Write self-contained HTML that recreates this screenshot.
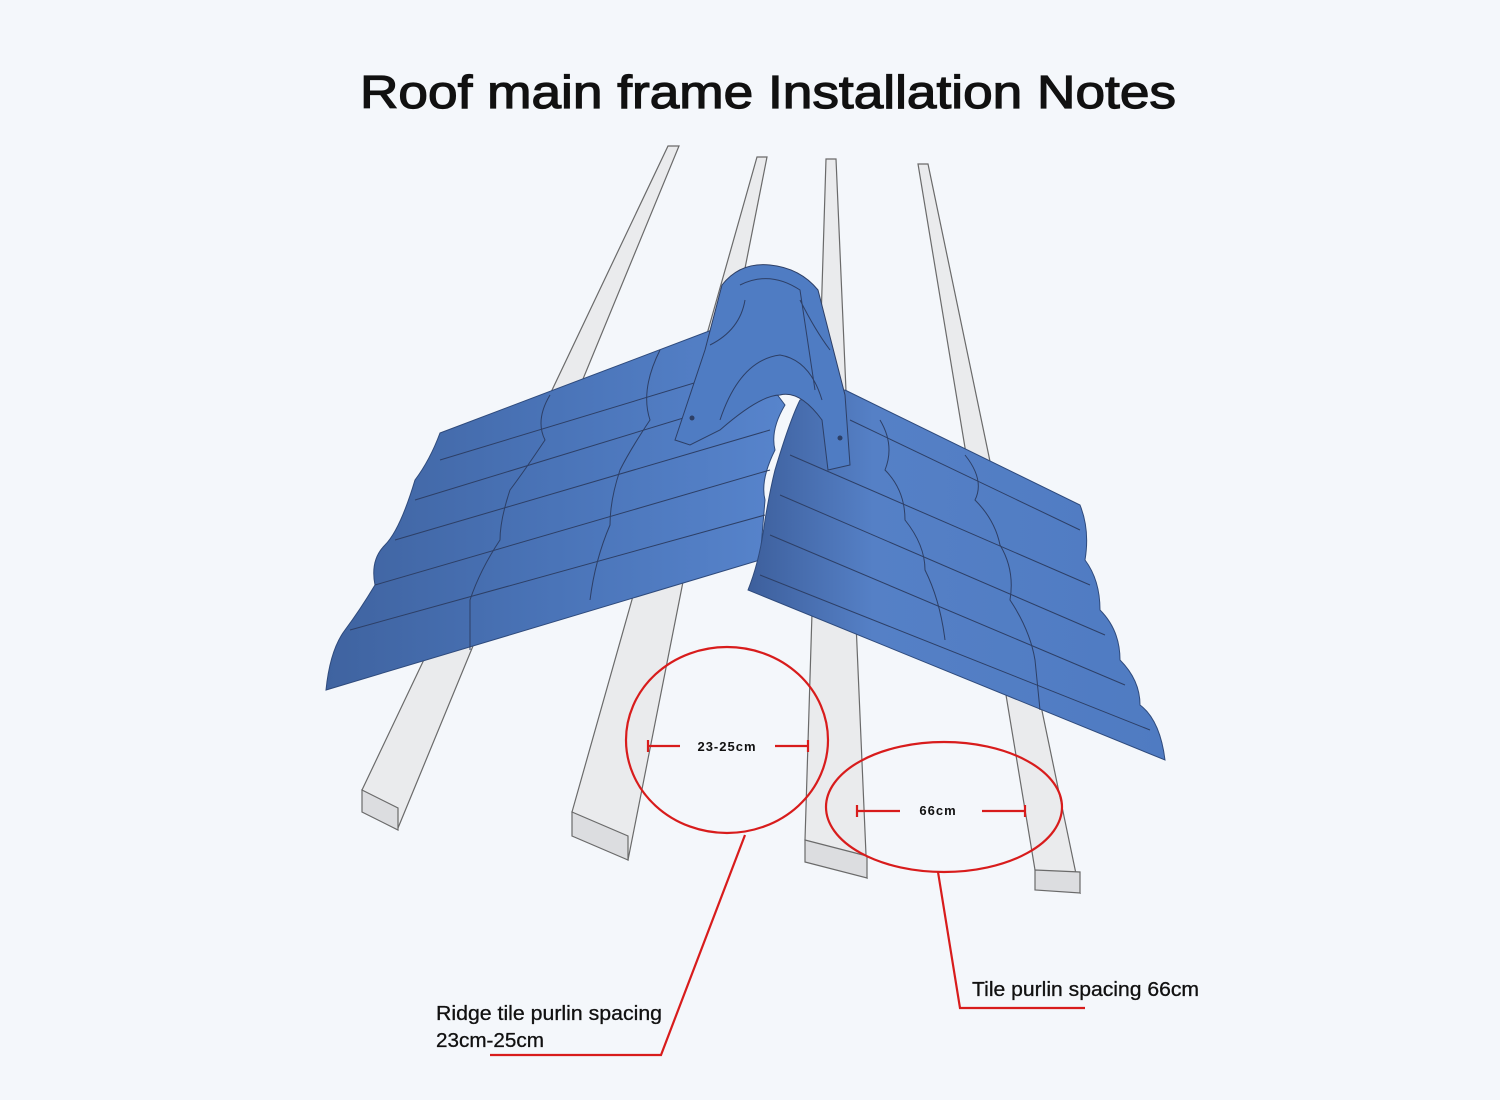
<!DOCTYPE html>
<html><head><meta charset="utf-8"><style>
html,body{margin:0;padding:0;background:#f4f7fb;}
svg{display:block;}
</style></head><body>
<svg width="1500" height="1100" viewBox="0 0 1500 1100" xmlns="http://www.w3.org/2000/svg">
<defs>
<linearGradient id="gl" x1="0" y1="0" x2="1" y2="0">
<stop offset="0" stop-color="#3f63a0"/><stop offset="0.5" stop-color="#4a74b8"/><stop offset="1" stop-color="#5784cc"/>
</linearGradient>
<linearGradient id="gr" x1="0" y1="0" x2="1" y2="0">
<stop offset="0" stop-color="#3d5f9c"/><stop offset="0.3" stop-color="#5580c6"/><stop offset="1" stop-color="#4f7bc2"/>
</linearGradient>
</defs>
<rect width="1500" height="1100" fill="#f4f7fb"/>
<text x="768" y="108" text-anchor="middle" font-family="Liberation Sans, sans-serif" font-size="46" font-weight="normal" stroke="#111" stroke-width="1.2" fill="#111" textLength="816" lengthAdjust="spacingAndGlyphs">Roof main frame Installation Notes</text>

<g fill="#eaebed" stroke="#6a6a6a" stroke-width="1.2">
<polygon points="668,146 679,146 398,828 362,790"/>
<polygon points="362,790 398,808 398,830 362,812" fill="#dcdde0"/>
<polygon points="757,157 767,157 628,860 572,812"/>
<polygon points="572,812 628,836 628,860 572,836" fill="#dcdde0"/>
<polygon points="826,159 836,159 867,878 805,840"/>
<polygon points="805,840 867,856 867,878 805,862" fill="#dcdde0"/>
<polygon points="918,164 928,164 1080,893 1035,870"/>
<polygon points="1035,870 1080,872 1080,893 1035,890" fill="#dcdde0"/>
</g>

<path d="M440,433 L725,325 L785,405 Q770,430 775,450 Q760,480 765,500 L760,560 L326,690 Q330,650 345,630 Q360,610 375,585 Q370,560 385,545 Q400,530 415,480 Q430,460 440,433 Z" fill="url(#gl)" stroke="#2e4a7c" stroke-width="1"/>
<g stroke="#2d3f66" stroke-width="1" fill="none">
<path d="M440,460 L770,360"/><path d="M415,500 L775,390"/><path d="M395,540 L770,430"/>
<path d="M375,585 L770,470"/><path d="M350,630 L765,515"/>
<path d="M550,395 Q535,420 545,440 Q525,470 510,490 Q500,520 500,540 Q480,570 470,600 L470,650"/>
<path d="M660,350 Q640,390 650,420 Q630,450 620,470 Q610,500 610,525 Q595,560 590,600"/>
</g>
<path d="M845,390 L1080,505 Q1090,530 1085,560 Q1100,580 1100,610 Q1120,630 1120,660 Q1140,680 1140,705 Q1160,720 1165,760 L748,590 Q760,560 765,520 Q770,490 775,470 Q790,420 800,400 Z" fill="url(#gr)" stroke="#2e4a7c" stroke-width="1"/>
<g stroke="#2d3f66" stroke-width="1" fill="none">
<path d="M850,420 L1080,530"/><path d="M790,455 L1090,585"/><path d="M780,495 L1105,635"/>
<path d="M770,535 L1125,685"/><path d="M760,575 L1150,730"/>
<path d="M965,455 Q985,480 975,500 Q995,520 1000,545 Q1015,570 1010,600 Q1030,630 1035,660 L1040,710"/>
<path d="M880,420 Q895,445 885,470 Q905,490 905,520 Q925,545 925,570 Q940,600 945,640"/>
</g>
<path d="M722,285 Q740,262 770,265 Q800,268 818,290 L845,395 L850,465 L828,470 L822,420 Q800,390 780,395 Q760,395 720,430 L690,445 L675,440 L705,350 Z" fill="#4f7cc3" stroke="#2d3f66" stroke-width="1"/>
<path d="M740,285 Q770,270 800,290 L815,390 M710,345 Q740,330 745,300 M830,350 Q815,330 800,300 M720,420 Q740,360 780,355 Q810,360 822,400" fill="none" stroke="#2d3f66" stroke-width="1"/>
<circle cx="692" cy="418" r="2.5" fill="#2d3f66"/><circle cx="840" cy="438" r="2.5" fill="#2d3f66"/>

<g stroke="#d81c1c" stroke-width="2.2" fill="none">
<ellipse cx="727" cy="740" rx="101" ry="93"/>
<ellipse cx="944" cy="807" rx="118" ry="65"/>
<path d="M648,746 L680,746 M775,746 L808,746 M648,740 L648,752 M808,740 L808,752"/>
<path d="M857,811 L900,811 M982,811 L1025,811 M857,805 L857,817 M1025,805 L1025,817"/>
<path d="M745,835 L661,1055 L490,1055"/>
<path d="M938,872 L960,1008 L1085,1008"/>
</g>
<g font-family="Liberation Sans, sans-serif" fill="#111">
<text x="727" y="751" text-anchor="middle" font-size="13" font-weight="bold" letter-spacing="1">23-25cm</text>
<text x="938" y="815" text-anchor="middle" font-size="13" font-weight="bold" letter-spacing="1">66cm</text>
<text x="436" y="1020" font-size="20" stroke="#111" stroke-width="0.3" textLength="226" lengthAdjust="spacingAndGlyphs">Ridge tile purlin spacing</text>
<text x="436" y="1047" font-size="20" stroke="#111" stroke-width="0.3" textLength="108" lengthAdjust="spacingAndGlyphs">23cm-25cm</text>
<text x="972" y="996" font-size="20" stroke="#111" stroke-width="0.3" textLength="227" lengthAdjust="spacingAndGlyphs">Tile purlin spacing 66cm</text>
</g>
</svg>
</body></html>
